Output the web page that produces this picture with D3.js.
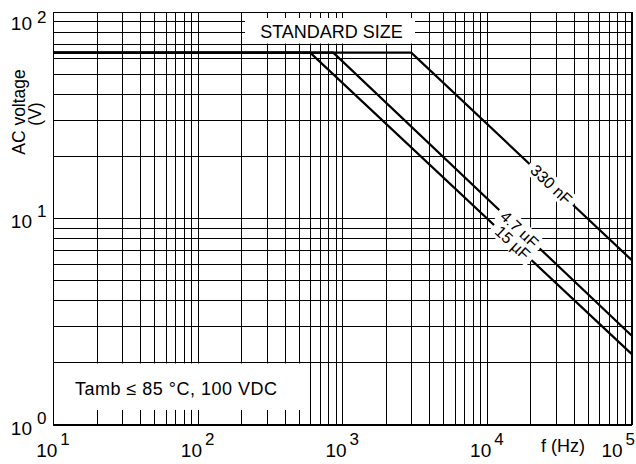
<!DOCTYPE html>
<html>
<head>
<meta charset="utf-8">
<script src="https://cdn.jsdelivr.net/npm/d3@7"></script>
<style>
  html, body { margin: 0; padding: 0; background: #fff; }
  svg { display: block; }
  text { font-family: 'Liberation Sans', Arial, Helvetica, sans-serif; fill: #000; }
</style>
</head>
<body>
<svg id="chart" width="636" height="464"></svg>
<script>
// ---- data ----
const xTickValues = [1e1, 1e2, 1e3, 1e4, 1e5];
const xTickExponents = ["1", "2", "3", "4", "5"];
const yTickValues = [1, 10, 100];
const yTickExponents = ["0", "1", "2"];
const gridMultipliers = [1, 2, 3, 4, 5, 6, 7, 8, 9];
const xDecades = [1e1, 1e2, 1e3, 1e4];
const yDecades = [1, 10];

const seriesNames = ["330 nF", "4.7 µF", "15 µF"];
const freq330n = [10, 3000, 1e5];
const volt330n = [63.5, 63.5, 6.28];
const freq4u7 = [10, 867, 1e5];
const volt4u7 = [63.5, 63.5, 2.7];
const freq15u = [10, 600, 1e5];
const volt15u = [63.5, 63.5, 2.2];
const labelFreqs = [27900, 16800, 15100];

const xAxisTitle = "f (Hz)";
const yAxisTitle1 = "AC voltage";
const yAxisTitle2 = "(V)";
const boxTitle = "STANDARD SIZE";
const noteText = "Tamb \u2264 85 \u00B0C, 100 VDC";

// ---- layout ----
const W = 636, H = 464;
const m = { left: 53, right: 4.5, top: 12, bottom: 39.5 };
const pw = W - m.left - m.right, ph = H - m.top - m.bottom;

const svg = d3.select("#chart");
const g = svg.append("g").attr("transform", `translate(${m.left},${m.top})`);

const x = d3.scaleLog().domain([1e1, 1e5]).range([0, pw]);
const y = d3.scaleLog().domain([1, 100]).range([ph, 0]);

// grid values
const xGridVals = [];
xDecades.forEach(d => gridMultipliers.forEach(k => xGridVals.push(d * k)));
xGridVals.push(1e5);
const yGridVals = [];
yDecades.forEach(d => gridMultipliers.forEach(k => yGridVals.push(d * k)));
yGridVals.push(100);

const gridX = g.append("g").attr("class", "gridx")
  .attr("transform", `translate(0,${ph})`)
  .call(d3.axisBottom(x).tickValues(xGridVals).tickSize(-ph).tickFormat(""));
const gridY = g.append("g").attr("class", "gridy")
  .call(d3.axisLeft(y).tickValues(yGridVals).tickSize(-pw).tickFormat(""));
[gridX, gridY].forEach(a => {
  a.select(".domain").remove();
  a.selectAll("line").attr("stroke", "#000").attr("stroke-width", 1).attr("shape-rendering", "crispEdges");
});

// curves
const seriesF = [freq330n, freq4u7, freq15u];
const seriesV = [volt330n, volt4u7, volt15u];
const line = d3.line().x(d => x(d[0])).y(d => y(d[1]));
seriesF.forEach((fs, i) => {
  const pts = fs.map((f, j) => [f, seriesV[i][j]]);
  g.append("path").datum(pts)
    .attr("d", line)
    .attr("fill", "none")
    .attr("stroke", "#000")
    .attr("stroke-width", 2.2)
    .attr("stroke-linejoin", "miter");
});

// curve labels (rotated, with white backing)
seriesNames.forEach((name, i) => {
  const fs = seriesF[i], vs = seriesV[i];
  const slope = Math.log10(vs[2] / vs[1]) / Math.log10(fs[2] / fs[1]);
  const lf = labelFreqs[i];
  const lv = vs[1] * Math.pow(lf / fs[1], slope);
  const px = x(lf), py = y(lv);
  const ang = Math.atan2(y(vs[2]) - y(vs[1]), x(fs[2]) - x(fs[1])) * 180 / Math.PI;
  const lg = g.append("g").attr("transform", `translate(${px},${py}) rotate(${ang})`);
  const rect = lg.append("rect").attr("fill", "#fff");
  const t = lg.append("text").attr("text-anchor", "middle").attr("dy", "0.36em")
    .attr("font-size", 16).text(name);
  const len = t.node().getComputedTextLength();
  rect.attr("x", -len / 2 - 5).attr("y", -9).attr("width", len + 10).attr("height", 18);
});

// STANDARD SIZE box
g.append("rect").attr("x", 192).attr("y", 6).attr("width", 170).attr("height", 25.5).attr("fill", "#fff");
g.append("text").attr("x", 278.5).attr("y", 26).attr("text-anchor", "middle")
  .attr("font-size", 18).text(boxTitle);

// Tamb note box
g.append("rect").attr("x", 0.5).attr("y", y(2) + 1).attr("width", 252).attr("height", 46.5).attr("fill", "#fff");
g.append("text").attr("x", 22).attr("y", 383).attr("font-size", 18)
  .attr("textLength", 202).attr("lengthAdjust", "spacing").text(noteText);

// frame
g.append("rect").attr("x", 0).attr("y", 0).attr("width", pw).attr("height", ph)
  .attr("fill", "none").attr("stroke", "#000").attr("stroke-width", 1).attr("shape-rendering", "crispEdges");

// x tick labels
xTickValues.forEach((v, i) => {
  const t = svg.append("text").attr("y", 457).attr("text-anchor", "middle").attr("font-size", 19);
  t.append("tspan").text("10");
  t.append("tspan").attr("dx", 3).attr("dy", -12).attr("font-size", 17).text(xTickExponents[i]);
  let cx = m.left + x(v);
  const bw = t.node().getBBox().width;
  if (cx + bw / 2 > W - 1) cx = W - 1 - bw / 2;
  t.attr("x", cx);
});

// y tick labels
yTickValues.forEach((v, i) => {
  const ly = m.top + y(v);
  svg.append("text").attr("x", 32).attr("y", Math.max(ly + 10, 30))
    .attr("text-anchor", "end").attr("font-size", 19).text("10");
  svg.append("text").attr("x", 37).attr("y", Math.max(ly - 1, 22.7))
    .attr("font-size", 17).text(yTickExponents[i]);
});

// axis titles
svg.append("text").attr("x", 541).attr("y", 452).attr("font-size", 18).text(xAxisTitle);
svg.append("text").attr("transform", "translate(25,112) rotate(-90)")
  .attr("text-anchor", "middle").attr("font-size", 17.5).text(yAxisTitle1);
svg.append("text").attr("transform", "translate(41,114) rotate(-90)")
  .attr("text-anchor", "middle").attr("font-size", 17.5).text(yAxisTitle2);
</script>
</body>
</html>
